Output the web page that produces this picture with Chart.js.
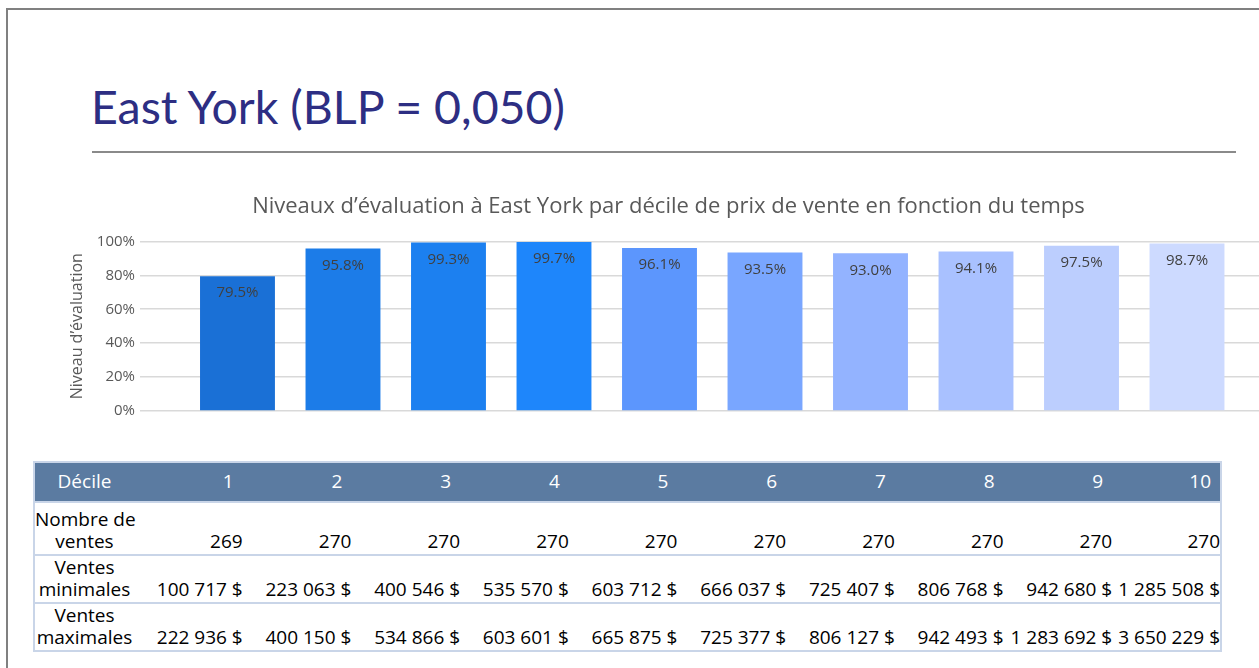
<!DOCTYPE html>
<html lang="fr">
<head>
<meta charset="utf-8">
<script src="https://cdn.jsdelivr.net/npm/chart.js@4"></script>
<style>
  html, body { margin: 0; padding: 0; background: #fff; overflow: hidden; }
  body { width: 1259px; height: 668px; position: relative; }
  .frame { position: absolute; left: 6px; top: 8px; width: 1300px; height: 700px; border: 2px solid #808080; }
  .title { position: absolute; left: 91px; top: 83px; font-family: Lato, sans-serif; font-size: 46.5px; line-height: 47px; color: #2d2e83; white-space: nowrap; }
  .rule { position: absolute; left: 92px; top: 151px; width: 1144px; height: 0; border-top: 2px solid #8a8a8a; }
  .chart-box { position: absolute; left: 60px; top: 190px; width: 1217px; height: 235px; }
  table { position: absolute; left: 33px; top: 461px; width: 1189px; border-collapse: collapse; table-layout: fixed;
          font-family: "Open Sans", sans-serif; font-size: 19px; color: #000; border: 2px solid #c9d5e8; }
  th { background: #5b7ba1; color: #fff; font-weight: normal; height: 35px; text-align: right; padding: 0 9px 3px 0; }
  th.lab { text-align: center; padding: 0 0 3px 0; }
  td { text-align: right; vertical-align: bottom; padding: 0 0 2px 0; line-height: 22px; white-space: nowrap; border-top: 2px solid #c9d5e8; }
  td.lab { text-align: center; }
</style>
</head>
<body>
<div class="frame"></div>
<div class="title">East York (BLP = 0,050)</div>
<div class="rule"></div>
<div class="chart-box"><canvas id="levelsChart"></canvas></div>
<table id="decileTable"></table>

<script>
// Chart data
const deciles = [1, 2, 3, 4, 5, 6, 7, 8, 9, 10];
const levels = [79.5, 95.8, 99.3, 99.7, 96.1, 93.5, 93.0, 94.1, 97.5, 98.7];
const barColors = ['#1a70d6', '#1c7ce8', '#1c80f0', '#1e86fb', '#5c96fd', '#79a6ff', '#93b3ff', '#a9c1ff', '#bccefe', '#cddaff'];
const yTicks = [0, 20, 40, 60, 80, 100];

// Table data
const salesCount = ['269', '270', '270', '270', '270', '270', '270', '270', '270', '270'];
const minSales = ['100 717 $', '223 063 $', '400 546 $', '535 570 $', '603 712 $', '666 037 $', '725 407 $', '806 768 $', '942 680 $', '1 285 508 $'];
const maxSales = ['222 936 $', '400 150 $', '534 866 $', '603 601 $', '665 875 $', '725 377 $', '806 127 $', '942 493 $', '1 283 692 $', '3 650 229 $'];

// build the table under the chart
const table = document.getElementById('decileTable');
let html = '<colgroup><col style="width:100px">' + deciles.map(() => '<col>').join('') + '</colgroup>';
html += '<tr><th class="lab">Décile</th>' + deciles.map(d => '<th>' + d + '</th>').join('') + '</tr>';
const rows = [
  ['Nombre de<br>ventes', salesCount, 53],
  ['Ventes<br>minimales', minSales, 45],
  ['Ventes<br>maximales', maxSales, 45]
];
rows.forEach(r => {
  html += '<tr style="height:' + r[2] + 'px"><td class="lab">' + r[0] + '</td>' + r[1].map(v => '<td>' + v + '</td>').join('') + '</tr>';
});
table.innerHTML = html;

// value labels drawn just inside the top of each bar
const barLabels = {
  id: 'barLabels',
  afterDatasetsDraw(chart) {
    const ctx = chart.ctx;
    const meta = chart.getDatasetMeta(0);
    ctx.save();
    ctx.font = '15px "Open Sans", sans-serif';
    ctx.fillStyle = '#404040';
    ctx.textAlign = 'center';
    ctx.textBaseline = 'middle';
    meta.data.forEach((bar, i) => {
      ctx.fillText(levels[i].toFixed(1) + '%', bar.x, bar.y + 17);
    });
    ctx.restore();
  }
};

document.addEventListener('DOMContentLoaded', function () {
  const ctx = document.getElementById('levelsChart');
  new Chart(ctx, {
    type: 'bar',
    data: {
      datasets: [{
        data: deciles.map((d, i) => ({ x: d, y: levels[i] })),
        backgroundColor: barColors,
        borderWidth: 0,
        barPercentage: 0.71,
        categoryPercentage: 1
      }]
    },
    options: {
      responsive: true,
      maintainAspectRatio: false,
      animation: false,
      layout: { padding: { left: 0, right: 0, top: 0, bottom: 10 } },
      plugins: {
        legend: { display: false },
        tooltip: { enabled: false },
        title: {
          display: true,
          text: 'Niveaux d\u2019évaluation à East York par décile de prix de vente en fonction du temps',
          color: '#595959',
          font: { family: '"Open Sans", sans-serif', size: 22, weight: 'normal' },
          padding: { top: 4, bottom: 21 }
        }
      },
      scales: {
        x: {
          type: 'linear',
          min: 0.076,
          max: 10.853,
          offset: false,
          display: false,
          afterBuildTicks: function (scale) {
            scale.ticks = deciles.map(v => ({ value: v }));
          }
        },
        y: {
          min: 0,
          max: 100,
          afterBuildTicks: function (scale) {
            scale.ticks = yTicks.map(v => ({ value: v }));
          },
          afterFit: function (scale) {
            scale.width = 80;
          },
          border: { display: false },
          grid: { color: '#d9d9d9', lineWidth: 1.5, drawTicks: false },
          ticks: {
            color: '#595959',
            padding: 5,
            font: { family: '"Open Sans", sans-serif', size: 15 },
            callback: function (value) { return value + '%'; }
          },
          title: {
            display: true,
            text: 'Niveau d\u2019évaluation',
            color: '#595959',
            font: { family: '"Open Sans", sans-serif', size: 16 },
            padding: { top: 8, bottom: 4 }
          }
        }
      }
    },
    plugins: [barLabels]
  });
});
</script>
</body>
</html>
